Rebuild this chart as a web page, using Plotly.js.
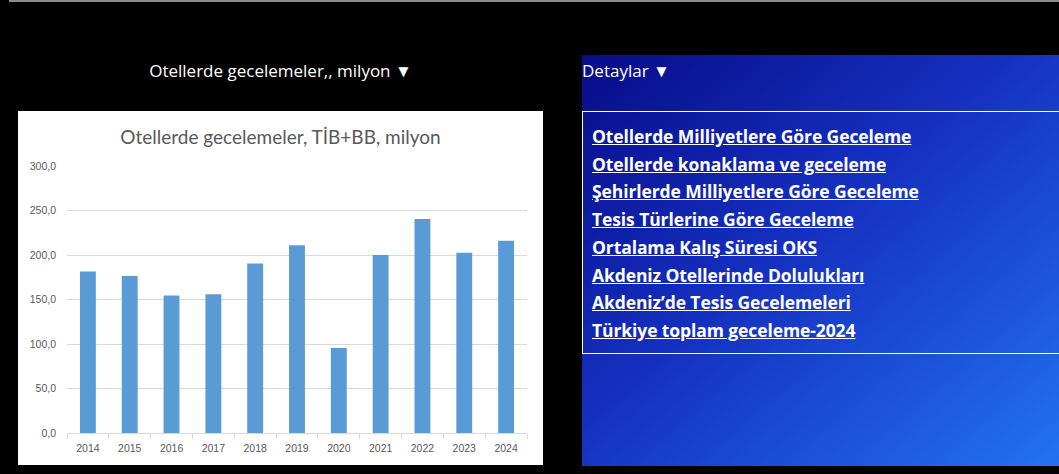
<!DOCTYPE html>
<html>
<head>
<meta charset="utf-8">
<script src="https://cdn.plot.ly/plotly-3.0.1.min.js"></script>
<style>
  html, body { margin:0; padding:0; background:#000; width:1059px; height:474px; overflow:hidden; }
  #topline { position:absolute; left:9px; top:0; width:1050px; height:2px; background:#8c8c8c; }
  #hdr { position:absolute; left:18px; width:525px; top:60px; text-align:center; color:#fff;
         font-family:"Open Sans", sans-serif; font-size:17px; line-height:22px; }
  #chartbox { position:absolute; left:18px; top:111px; width:525px; height:354px; background:#fff; }
  #chart { width:525px; height:354px; }
  #blue { position:absolute; left:582px; top:55px; width:477px; height:411px;
          background:linear-gradient(to bottom right, #080c88 0%, #1530c0 45%, #2372f2 100%); }
  #det { position:absolute; left:0; top:5px; color:#fff; font-family:"Open Sans", sans-serif; font-size:17px; line-height:22px; }
  #links { position:absolute; left:0; top:56px; width:490px; height:243px; border:1.5px solid #fff; box-sizing:border-box; }
  #links a { position:absolute; left:9px; color:#fff; font-family:"Open Sans", sans-serif; font-weight:bold;
             font-size:17.5px; line-height:20px; text-decoration:underline; white-space:nowrap; letter-spacing:-0.1px; }
</style>
</head>
<body>
<div id="topline"></div>
<div id="hdr">Otellerde gecelemeler,, milyon ▼</div>
<div id="chartbox"><div id="chart"></div></div>
<div id="blue">
  <div id="det">Detaylar ▼</div>
  <div id="links"></div>
</div>
<script>
// ---- data ----
const years = ["2014","2015","2016","2017","2018","2019","2020","2021","2022","2023","2024"];
const nights = [181.5, 176.5, 154.5, 156.0, 190.5, 211.0, 95.5, 200.0, 240.5, 202.5, 216.0];
const yTicks = [0, 50, 100, 150, 200, 250, 300];
const chartTitle = "Otellerde gecelemeler, TİB+BB, milyon";
const linkLabels = [
  "Otellerde Milliyetlere Göre Geceleme",
  "Otellerde konaklama ve geceleme",
  "Şehirlerde Milliyetlere Göre Geceleme",
  "Tesis Türlerine Göre Geceleme",
  "Ortalama Kalış Süresi OKS",
  "Akdeniz Otellerinde Dolulukları",
  "Akdeniz’de Tesis Gecelemeleri",
  "Türkiye toplam geceleme-2024"
];

// ---- links panel ----
const box = document.getElementById('links');
linkLabels.forEach((t, i) => {
  const a = document.createElement('a');
  a.href = "#";
  a.textContent = t;
  a.style.top = (14 + i * 27.7) + "px";
  box.appendChild(a);
});

// ---- chart ----
const grey = "#595959";
const trace = {
  type: "bar",
  x: years,
  y: nights,
  marker: { color: "#5b9bd5" },
  hoverinfo: "x+y"
};
const layout = {
  width: 525, height: 354,
  margin: { l: 49, r: 16, t: 55, b: 32 },
  paper_bgcolor: "#ffffff",
  plot_bgcolor: "#ffffff",
  separators: ",.",
  bargap: 0.62,
  showlegend: false,
  title: {
    text: chartTitle,
    font: { family: "Lato, 'Open Sans', sans-serif", size: 19, color: grey },
    x: 0.5, xanchor: "center", y: 1 - 26/354, yanchor: "middle"
  },
  font: { family: "'Liberation Sans', Arial, sans-serif", size: 10.5, color: grey },
  xaxis: {
    type: "category",
    showgrid: false,
    showline: true, linecolor: "#d9d9d9", linewidth: 1,
    ticks: "outside", tickson: "boundaries", ticklen: 5, tickcolor: "#d9d9d9",
    ticklabelstandoff: 5,
    tickfont: { size: 10.5, color: grey },
    fixedrange: true
  },
  yaxis: {
    range: [0, 300],
    tickvals: yTicks,
    tickformat: ".1f",
    showgrid: true, gridcolor: "#d9d9d9", gridwidth: 1,
    zeroline: false,
    showline: false,
    ticks: "", ticklabelstandoff: 10,
    tickfont: { size: 10.5, color: grey },
    fixedrange: true
  }
};
Plotly.newPlot("chart", [trace], layout, { displayModeBar: false, staticPlot: true });
</script>
</body>
</html>
